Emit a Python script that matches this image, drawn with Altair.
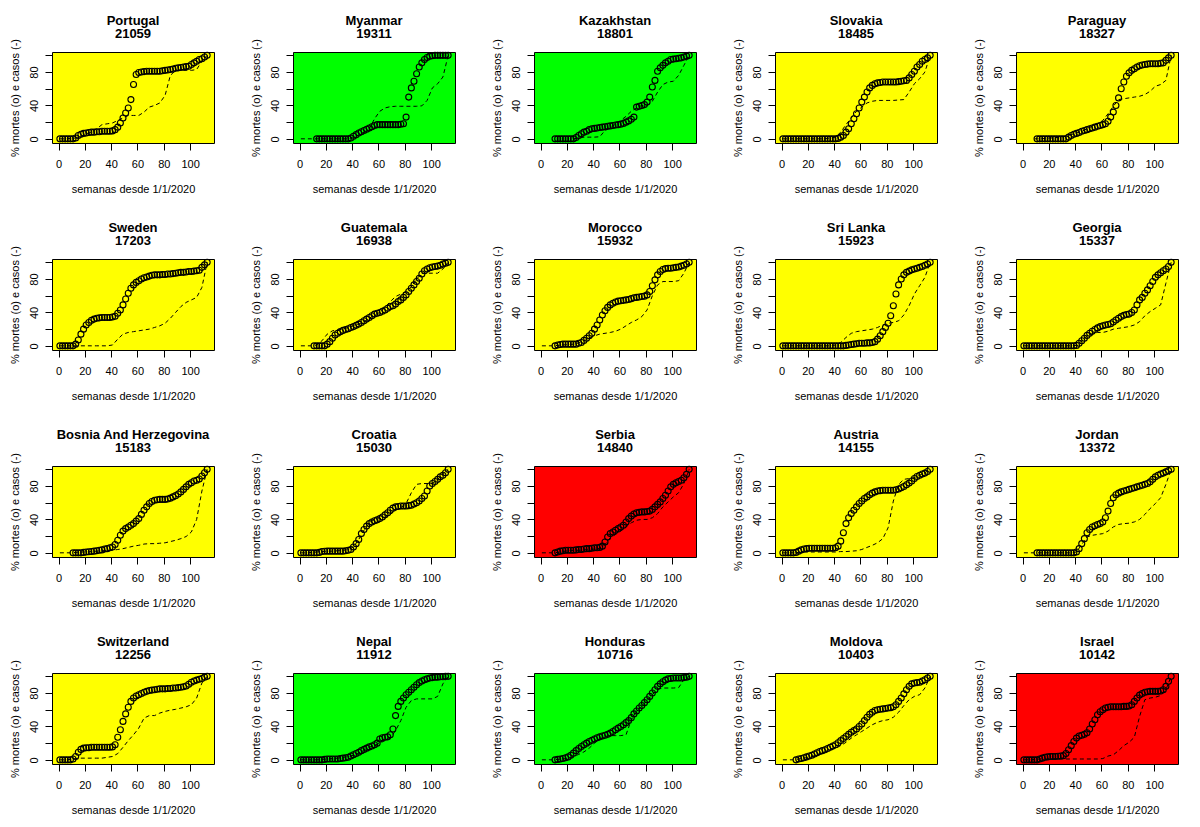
import altair as alt
import pandas as pd

COUNTRIES = ["Portugal", "Myanmar", "Kazakhstan", "Slovakia", "Paraguay",
             "Sweden", "Guatemala", "Morocco", "Sri Lanka", "Georgia",
             "Bosnia And Herzegovina", "Croatia", "Serbia", "Austria", "Jordan",
             "Switzerland", "Nepal", "Honduras", "Moldova", "Israel"]
TOTALS = [21059, 19311, 18801, 18485, 18327, 17203, 16938, 15932, 15923, 15337,
          15183, 15030, 14840, 14155, 13372, 12256, 11912, 10716, 10403, 10142]
BACKGROUNDS = ["#FFFF00", "#00FF00", "#00FF00", "#FFFF00", "#FFFF00",
               "#FFFF00", "#FFFF00", "#FFFF00", "#FFFF00", "#FFFF00",
               "#FFFF00", "#FFFF00", "#FF0000", "#FFFF00", "#FFFF00",
               "#FFFF00", "#00FF00", "#00FF00", "#FFFF00", "#FF0000"]
# first week of each series (deaths every 2 weeks, cases every 4 weeks)
DEATH_START = [1, 13, 11, 1, 11, 1, 11, 11, 1, 1, 11, 1, 11, 1, 11, 1, 1, 11, 11, 1]
CASE_START = [1, 1, 25, 1, 9, 1, 1, 1, 1, 1, 1, 1, 1, 1, 1, 1, 1, 1, 1, 1]

D_PORTUGAL = [0, 0, 0, 0, 0, 0, 1, 4, 5.5, 6.5, 7, 7.5, 8, 8, 8.5, 8.5, 9, 9, 9, 9, 9.5, 11, 14, 19, 25, 31,
              37, 47, 65, 77, 79.5, 80, 80.5, 81, 81, 81, 81, 81, 81, 81.5, 82, 82.5, 83, 83.5, 84.5, 85,
              85.5, 86, 86.5, 87, 89, 91, 93, 95, 96, 98, 100]
C_PORTUGAL = [0, 0, 0.5, 1, 3, 6, 8, 12, 17, 18, 19, 22, 25, 28, 28, 28, 32, 38, 40, 43,
              52, 76, 82, 82, 82, 82, 83, 93, 100]
D_MYANMAR = [0] * 13 + [1, 3, 5, 7, 8.5, 10, 11.5, 13, 14.5, 16, 17, 17, 17, 17, 17, 17, 17, 17, 17, 17.5,
                        18, 26, 50, 61, 69, 78, 86, 91, 95, 97.5, 99, 99.5, 100, 100, 100, 100, 100, 100]
C_MYANMAR = [0] * 10 + [2.5, 4.5, 8, 12, 24, 33, 37, 38.5, 39, 39, 39, 39, 39, 39.5, 46, 61, 66, 74, 100]
D_KAZAKHSTAN = [0] * 8 + [1.5, 4, 6, 8, 9, 11, 12, 12.5, 13, 13.5, 14, 14.5, 15, 15.5, 16, 16.5, 17, 17.5,
                          18.5, 20, 21.5, 23.5, 26, 38, 39, 40, 41, 44, 50, 62, 70, 81, 85, 88, 91, 93, 95,
                          95.5, 96, 96.5, 97, 98, 99, 100]
C_KAZAKHSTAN = [0, 1, 2, 2, 2, 2.5, 10, 13, 18, 22, 27, 33, 37, 40, 40, 45, 56, 65, 68, 69, 76, 88, 100]
D_SLOVAKIA = [0] * 21 + [0.5, 2, 4, 8, 12, 18, 24, 30, 37, 44, 50, 56, 61, 64, 66, 67, 67.5, 68, 68, 68, 68,
                         68, 68, 68.5, 69, 69.5, 70, 73, 77, 81, 86, 89, 93, 95, 97, 100]
C_SLOVAKIA = [0] * 9 + [1, 2, 8, 17, 25, 33, 38, 43, 45, 46, 46, 46, 46, 46.5, 47, 56, 66, 72, 80, 100]
D_PARAGUAY = [0] * 12 + [2, 4, 5.5, 6.5, 7.5, 9, 10, 11, 12, 13, 14, 15, 16, 17, 18, 21, 26, 32, 40, 49, 60,
                         68, 75, 79, 82, 84, 86, 87.5, 88.5, 89, 89.5, 90, 90, 90, 90, 90.5, 91, 94, 97, 100]
C_PARAGUAY = [0, 0, 0.5, 1, 1.5, 2, 3, 5, 7, 9, 12, 15, 18, 22, 30, 39, 47, 48, 49, 50, 51, 53, 57, 63,
              65, 70, 100]
D_SWEDEN = [0] * 6 + [2, 7, 14, 20, 25, 28, 30.5, 32, 33, 33.5, 34, 34, 34, 34, 34.5, 35.5, 39, 43, 49, 56,
                      63, 69, 73, 76, 78, 80, 81.5, 82.5, 83.5, 84.5, 85, 85, 85, 85.5, 85.5, 86, 86, 86.5,
                      87, 87.5, 88, 88, 88.5, 89, 89, 89.5, 90, 90.5, 94, 97, 100]
C_SWEDEN = [0] * 10 + [1, 8, 14, 16, 17, 18, 19, 20, 22, 24, 27, 33, 40, 47, 52, 55, 58, 70, 100]
D_GUATEMALA = [0] * 5 + [2, 5, 9, 13, 15, 17, 18.5, 19.5, 20.5, 22, 23, 24.5, 26, 28, 30, 32, 34, 36, 38,
                         39, 40, 41.5, 43, 45, 47, 48, 50, 53, 55, 58, 61, 65, 69, 73, 77, 81, 86, 90, 92,
                         93.5, 94.5, 95, 95.5, 96.5, 98, 99, 100]
C_GUATEMALA = [0, 0, 0, 1, 6, 14, 18, 19, 20, 22, 24, 26, 29, 33, 37, 40, 46, 53, 59, 62,
               65, 71, 80, 87, 87, 87, 87, 92, 100]
D_MOROCCO = [0, 1, 1.5, 2, 2, 2, 2, 2, 2, 3, 4, 6.5, 9, 12, 15, 20, 25, 31, 37, 42, 46, 49, 51, 52.5,
             53.5, 54, 54.5, 55, 55.5, 56.5, 57.5, 58, 58.5, 59, 59.5, 61, 65, 72, 79, 85, 89, 91.5,
             92.5, 93, 93, 93.5, 94, 94.5, 95.5, 96.5, 98, 100]
C_MOROCCO = [0, 0, 0, 0.5, 1, 1.5, 2, 3.5, 6, 9, 12, 14, 15, 16, 17.5, 20, 24, 28, 31, 35,
             43, 60, 73, 77, 77, 77, 78, 87, 100]
D_SRI_LANKA = [0] * 24 + [0.5, 1, 1.5, 2, 2.5, 3, 3, 3, 3.5, 3.5, 4, 5, 8, 12, 17, 22, 27, 36, 48, 62,
                          73, 80, 85, 88, 89.5, 91, 92, 93, 94, 95, 96.5, 98, 100]
C_SRI_LANKA = [0] * 10 + [1, 4, 10, 15, 17, 18, 19, 20, 22, 25, 27, 28, 30, 37, 48, 62, 72, 82, 100]
D_GEORGIA = [0] * 20 + [0.5, 3, 6, 9, 12.5, 15, 17.5, 19.5, 21.5, 23, 24, 25, 25.5, 26.5, 28.5, 31, 33, 35,
                        36.5, 37.5, 38, 40, 43, 49, 55, 58, 63, 67, 72, 77, 82, 85, 87.5, 90, 92, 95, 100]
C_GEORGIA = [0] * 10 + [0.5, 6, 12, 14, 16, 16, 17.5, 20, 21, 22, 23, 25, 29, 36, 41, 45, 49, 75, 100]
D_BOSNIA = [0, 0, 0, 0, 0.5, 1, 1.2, 1.5, 2, 2.5, 3, 3.5, 4.5, 5, 6, 7, 10, 15, 21, 26, 29, 31, 33, 35,
            38, 41, 46, 51, 55, 59, 61.5, 63, 63.5, 64, 64, 64, 64.5, 65.5, 67, 68.5, 70.5, 73, 76, 79,
            82, 84, 86, 87, 88.5, 92, 96, 100]
C_BOSNIA = [0, 0, 0, 0.5, 1, 1, 1.5, 2, 2.5, 3, 3, 4, 5, 6.5, 8, 9, 10.5, 11, 11, 11.5,
            12, 13.5, 15, 17, 19.5, 25, 40, 74, 100]
D_CROATIA = [0] * 7 + [0.5, 1.5, 1.8, 2, 2, 2, 2, 2, 2, 2, 2.5, 3, 4, 7, 11, 16, 23, 28, 32, 35, 37, 38.5,
                       39.5, 41, 43, 45.5, 48, 51, 53.5, 55, 55.5, 56, 56, 56, 56.5, 57, 58.5, 60, 62, 65,
                       68, 74, 80, 83, 85.5, 88, 91, 93, 96, 100]
C_CROATIA = [0, 0, 0.5, 1, 1.5, 2, 2, 2.5, 3, 4, 7, 16, 27, 36, 40, 41, 42, 46, 51, 54,
             59, 72, 82, 83, 83, 83, 88, 94, 100]
D_SERBIA = [0, 1, 2, 2.5, 3, 3, 3, 3, 3.5, 4, 4, 4.5, 5, 5, 5.5, 6, 6, 6.5, 8, 13, 19, 23, 25, 27, 29,
            31, 33, 37, 41, 44, 46.5, 48, 48.5, 49, 49, 49.5, 50, 52, 55, 58, 61, 65, 69, 74, 79, 82,
            84, 85.5, 87, 90, 94, 100]
C_SERBIA = [0, 0, 0, 0.5, 1.5, 2.5, 3, 3, 3.5, 4, 4.5, 5.5, 10, 18, 22, 26, 31, 36, 39, 40,
            40, 42, 47, 55, 61, 67, 72, 83, 100]
D_AUSTRIA = [0, 0, 0, 0, 0, 0.5, 2, 3.5, 4.5, 5, 5.5, 5.5, 5.5, 5.5, 5.5, 5.5, 5.5, 5.5, 5.5, 5.5,
             6, 8, 14, 24, 35, 42, 47, 51, 55, 59, 62, 65, 67, 69.5, 71.5, 73, 74, 74.5, 75, 75,
             75, 75, 75, 75.5, 76.5, 78, 79.5, 81.5, 83.5, 86, 89, 91.5, 93, 94.5, 95.5, 97.5, 100]
C_AUSTRIA = [0, 0, 0, 0.5, 1, 1, 1, 1, 1, 1, 1, 1.5, 1.5, 2, 2.5, 4, 6.5, 9, 12, 17,
             30, 62, 82, 88, 89, 90, 93, 96, 100]
D_JORDAN = [0] * 15 + [1, 5, 11, 17, 24, 28, 31, 32.5, 34, 35, 37, 42, 50, 59, 66, 69.5, 71.5, 73, 74, 75,
                       76, 77, 78, 79, 80, 81, 82, 83, 85, 88, 91, 93, 94.5, 95.5, 97, 98.5, 100]
C_JORDAN = [0] * 10 + [1, 10, 19, 21, 22, 23, 26, 31, 34, 35, 35.5, 37, 40, 46, 53, 59, 66, 82, 100]
D_SWITZERLAND = [0, 0, 0, 0, 0, 1, 4, 9, 12.5, 14, 14.5, 14.5, 15, 15, 15, 15, 15, 15, 15, 15,
                 15.5, 18, 27, 36, 46, 55, 63, 70, 74, 76.5, 78, 79.5, 81, 82, 83, 83.5, 84, 84.5, 85, 85,
                 85, 85.5, 85.5, 86, 86, 86.5, 87, 87.5, 88.5, 90.5, 93, 94.5, 95.5, 96.5, 97.5, 99, 100]
C_SWITZERLAND = [0, 0, 0.5, 1.5, 2, 2, 2, 2, 2, 3, 4, 7.5, 15, 23, 30, 38, 50, 53, 53, 56,
                 58, 59.5, 60.5, 62, 63.5, 66, 74, 92, 100]
D_NEPAL = [0] * 9 + [0.5, 1, 1, 1, 1, 1, 1.5, 2, 2.5, 3, 4.5, 6, 7.5, 9, 11, 12.5, 14, 15.5, 16.5, 18,
                     20, 25, 26.5, 27, 27.5, 30, 37, 53, 64, 70, 74, 78, 81, 84, 87, 90, 92.5, 94.5, 96,
                     97, 98, 98.5, 99, 99, 99.5, 99.5, 100, 100]
C_NEPAL = [0, 0, 0, 0, 0.5, 1, 1.5, 2, 3, 4, 5.5, 8, 12, 15, 17.5, 20, 23, 26, 35, 47,
           63, 71, 73, 73, 73, 73, 76, 91, 100]
D_HONDURAS = [0, 0.5, 1, 1.5, 2.5, 3.5, 5.5, 8, 11, 13.5, 16, 18, 20, 22, 23.5, 25, 26.5, 27.5, 28.5,
              29.5, 30.5, 32, 34, 36, 38, 40, 42, 44.5, 47, 50.5, 55, 58.5, 62, 65, 68.5, 72, 76, 80,
              84, 88, 91, 93.5, 95.5, 97, 97.5, 98, 98, 98, 98, 98.5, 99, 100]
C_HONDURAS = [0, 0, 0, 0.5, 1, 2, 4, 6.5, 9.5, 14, 20, 25, 28, 29, 29, 29, 30, 48, 58, 64.5,
              71, 78, 84.5, 86, 86, 86, 86.5, 96, 100]
D_MOLDOVA = [0, 1, 1.5, 2.5, 3.5, 4.5, 5.5, 7, 8.5, 10, 11, 12, 13.5, 15, 16.5, 18, 20.5, 23, 25.5, 28,
             30.5, 33, 35, 37, 40, 43, 47, 51, 54.5, 57, 59, 60, 60.5, 61, 61.5, 62, 62.5, 63.5, 66,
             70, 74, 79, 84, 88, 91, 92, 92.5, 93, 94.5, 96, 98, 100]
C_MOLDOVA = [0, 0, 0, 1, 2, 3, 5, 7, 9.5, 12, 14, 17, 21, 26, 30, 34, 38, 42, 45, 47,
             48, 51, 57, 65, 72, 76, 78, 86, 100]
D_ISRAEL = [0, 0, 0, 0, 0, 0, 1, 2, 3, 3.5, 4, 4, 4, 4.2, 4.5, 5, 7.5, 12, 17, 22, 26, 28.5, 29.5,
            30.5, 32.5, 37, 43, 48, 54, 57.5, 60, 62, 63, 63.5, 63.5, 63.5, 63.5, 63.5, 64, 64, 64.5,
            66, 70, 74, 77.5, 79.5, 81, 81.5, 82, 82, 82, 82, 82.5, 84, 88, 94, 100]
C_ISRAEL = [0, 0, 0.5, 1, 1, 1, 1, 1, 1, 1, 1, 1, 1, 1, 1, 1.5, 4.5, 6, 11, 17,
            21, 27, 52, 72, 74, 75, 77, 84, 100]

DEATHS = [D_PORTUGAL, D_MYANMAR, D_KAZAKHSTAN, D_SLOVAKIA, D_PARAGUAY,
          D_SWEDEN, D_GUATEMALA, D_MOROCCO, D_SRI_LANKA, D_GEORGIA,
          D_BOSNIA, D_CROATIA, D_SERBIA, D_AUSTRIA, D_JORDAN,
          D_SWITZERLAND, D_NEPAL, D_HONDURAS, D_MOLDOVA, D_ISRAEL]
CASES = [C_PORTUGAL, C_MYANMAR, C_KAZAKHSTAN, C_SLOVAKIA, C_PARAGUAY,
         C_SWEDEN, C_GUATEMALA, C_MOROCCO, C_SRI_LANKA, C_GEORGIA,
         C_BOSNIA, C_CROATIA, C_SERBIA, C_AUSTRIA, C_JORDAN,
         C_SWITZERLAND, C_NEPAL, C_HONDURAS, C_MOLDOVA, C_ISRAEL]

X_TICKS = [0, 20, 40, 60, 80, 100]
Y_TICKS = [0, 20, 40, 60, 80, 100]
X_TITLE = "semanas desde 1/1/2020"
Y_TITLE = "% mortes (o) e casos (-)"

FONT = "Liberation Sans"
W, H = 162, 91

x_scale = alt.Scale(domain=[-5, 118.2], nice=False, zero=False)
y_scale = alt.Scale(domain=[-5, 104], nice=False, zero=False)

x_axis = alt.Axis(values=X_TICKS, title=X_TITLE, tickSize=7, labelFontSize=11,
                  labelPadding=8, titleFontSize=11, titlePadding=14, labelFlush=False,
                  labelOverlap=False)
y_axis = alt.Axis(values=Y_TICKS, title=Y_TITLE, tickSize=7, labelFontSize=11,
                  labelExpr="datum.value % 40 == 0 ? datum.label : ''",
                  labelAngle=270, labelAlign="center", labelBaseline="bottom",
                  labelPadding=6, titleFontSize=11, titlePadding=8, labelFlush=False,
                  labelOverlap=False)

panels = []
for i, name in enumerate(COUNTRIES):
    dvals = DEATHS[i]
    cvals = CASES[i]
    ddf = pd.DataFrame({"week": [DEATH_START[i] + 2 * k for k in range(len(dvals))], "pct": dvals})
    cdf = pd.DataFrame({"week": [CASE_START[i] + 4 * k for k in range(len(cvals))], "pct": cvals})
    enc = dict(x=alt.X("week:Q", scale=x_scale, axis=x_axis),
               y=alt.Y("pct:Q", scale=y_scale, axis=y_axis))
    line = alt.Chart(cdf).mark_line(color="black", strokeDash=[4, 3], strokeWidth=1).encode(**enc)
    pts = alt.Chart(ddf).mark_point(shape="circle", filled=False, color="black", size=36,
                                    strokeWidth=1.1, opacity=1).encode(**enc)
    panel = alt.layer(line, pts).properties(
        width=W, height=H,
        title=alt.TitleParams(text=[name, str(TOTALS[i])], fontSize=13, fontWeight="bold",
                              anchor="middle", frame="group", offset=-2, lineHeight=13,
                              color="black", font=FONT),
        view=alt.ViewBackground(fill=BACKGROUNDS[i], stroke="black", strokeWidth=1),
    )
    panels.append(panel)

chart = alt.concat(*panels, columns=5, spacing={"row": 26, "column": 34}).properties(
    padding={"left": 0, "top": 6, "right": 5, "bottom": 5}
).configure(font=FONT, background="white").configure_axis(
    domain=False, grid=False, labelColor="black", titleColor="black", tickColor="black",
    labelFont=FONT, titleFont=FONT, titleFontWeight="normal"
)

chart.save("out.html", embed_options={"renderer": "svg", "actions": False})
